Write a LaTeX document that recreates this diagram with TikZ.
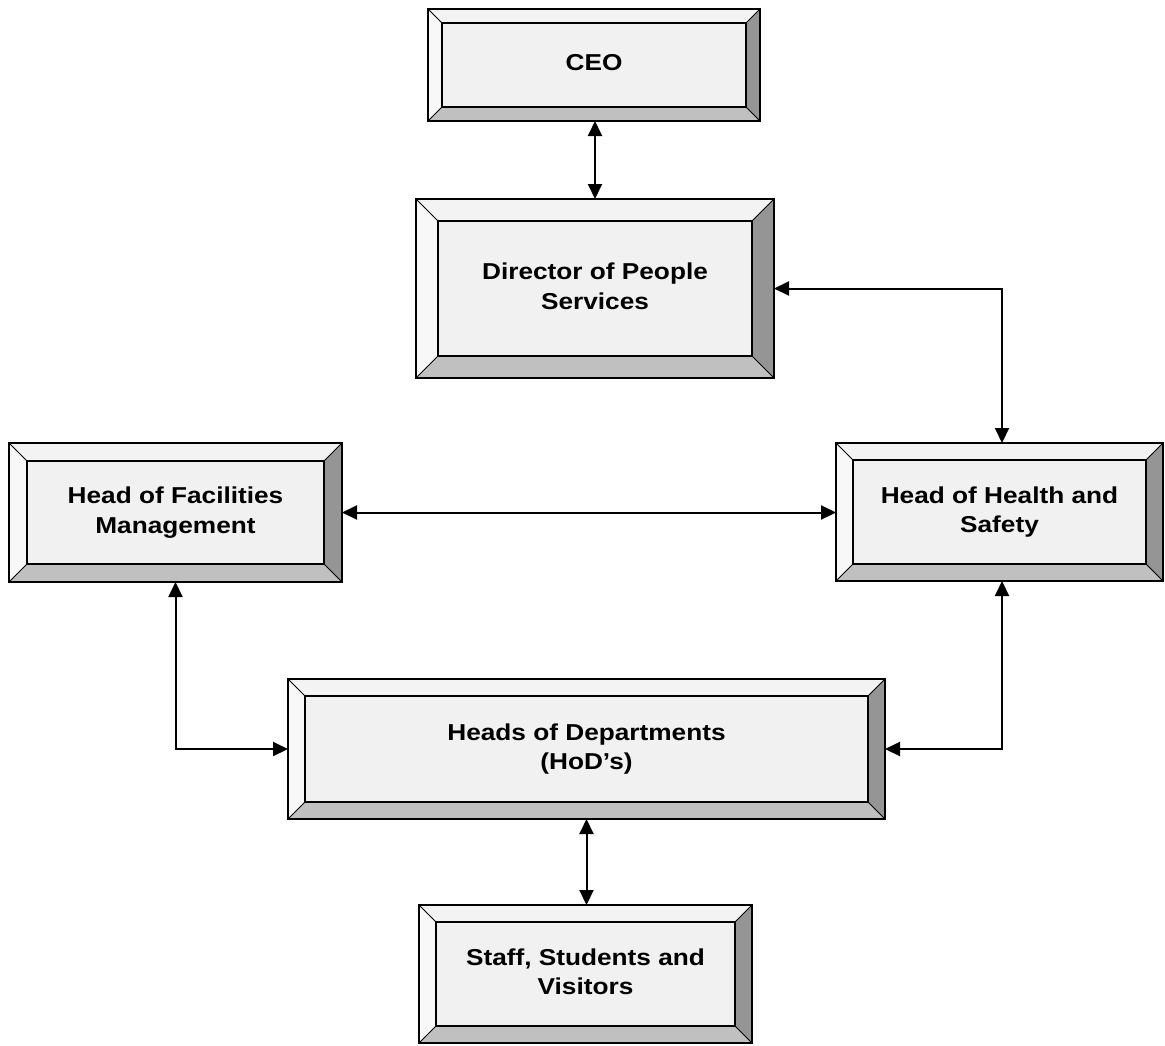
\documentclass[tikz,border=0pt]{standalone}
\usepackage{fontspec}
\newfontfamily\boxfont{Liberation Sans}[FakeStretch=1.14]
\usetikzlibrary{arrows.meta}

\definecolor{bvface}{HTML}{F1F1F1}
\definecolor{bvtop}{HTML}{F3F3F3}
\definecolor{bvleft}{HTML}{F8F8F8}
\definecolor{bvbottom}{HTML}{C0C0C0}
\definecolor{bvright}{HTML}{959595}

% bevelled frame drawn inside a box node; #1 = bevel depth in pt
\newcommand\bevelfill[1]{%
  \coordinate (bsw) at (path picture bounding box.south west);
  \coordinate (bse) at (path picture bounding box.south east);
  \coordinate (bne) at (path picture bounding box.north east);
  \coordinate (bnw) at (path picture bounding box.north west);
  \coordinate (isw) at ([xshift=#1pt,yshift=#1pt]bsw);
  \coordinate (ise) at ([xshift=-#1pt,yshift=#1pt]bse);
  \coordinate (ine) at ([xshift=-#1pt,yshift=-#1pt]bne);
  \coordinate (inw) at ([xshift=#1pt,yshift=-#1pt]bnw);
  \fill[bvtop]    (bnw) -- (bne) -- (ine) -- (inw) -- cycle;
  \fill[bvleft]   (bnw) -- (inw) -- (isw) -- (bsw) -- cycle;
  \fill[bvbottom] (bsw) -- (isw) -- (ise) -- (bse) -- cycle;
  \fill[bvright]  (bse) -- (ise) -- (ine) -- (bne) -- cycle;
  \draw[line width=1pt] (bnw) -- (inw) (bne) -- (ine) (bsw) -- (isw) (bse) -- (ise);
  \draw[line width=1.4pt] (isw) rectangle (ine);
}

% centred lines of box text, raised by #1
\newcommand\boxlines[2]{\raisebox{#1}{\begin{tabular}{@{}c@{}}#2\end{tabular}}}

\begin{document}
\begin{tikzpicture}[x=1pt,y=-1pt,
  bevelbox/.style={rectangle, draw=black, line width=2pt, fill=bvface,
    inner sep=0pt, outer sep=0pt,
    font=\boxfont\bfseries\fontsize{23}{29.5}\selectfont,
    path picture={\bevelfill{#1}}},
  link/.style={line width=2pt, {Triangle[length=15pt,width=14pt]}-{Triangle[length=15pt,width=14pt]}}
]
\useasboundingbox (0,0) rectangle (1165,1045);

\node[bevelbox=14, minimum width=332pt, minimum height=112pt] (ceo) at (594,65)
  {\boxlines{0pt}{CEO}};
\node[bevelbox=22, minimum width=358pt, minimum height=179pt] (dir) at (595,288.5)
  {\boxlines{11pt}{Director of People\\Services}};
\node[bevelbox=18, minimum width=333pt, minimum height=139pt] (hfm) at (175.5,512.5)
  {\boxlines{-6pt}{Head of Facilities\\Management}};
\node[bevelbox=17, minimum width=327pt, minimum height=138pt] (hhs) at (999.5,512)
  {\boxlines{-6pt}{Head of Health and\\Safety}};
\node[bevelbox=17, minimum width=597pt, minimum height=140pt] (hod) at (586.5,749)
  {\boxlines{-3pt}{Heads of Departments\\(HoD’s)}};
\node[bevelbox=17, minimum width=333pt, minimum height=138pt] (ssv) at (585.5,974)
  {\boxlines{-6pt}{Staff, Students and\\Visitors}};

% connectors
\draw[link] (dir.north |- ceo.south) -- (dir.north);
\draw[link] (dir.east) -| ([xshift=2.5pt]hhs.north);
\draw[link] (hfm.east) -- (hfm.east -| hhs.west);
\draw[link] (hfm.south) |- (hod.west);
\draw[link] ([xshift=2.5pt]hhs.south) |- (hod.east);
\draw[link] (hod.south) -- (hod.south |- ssv.north);
\end{tikzpicture}
\end{document}
